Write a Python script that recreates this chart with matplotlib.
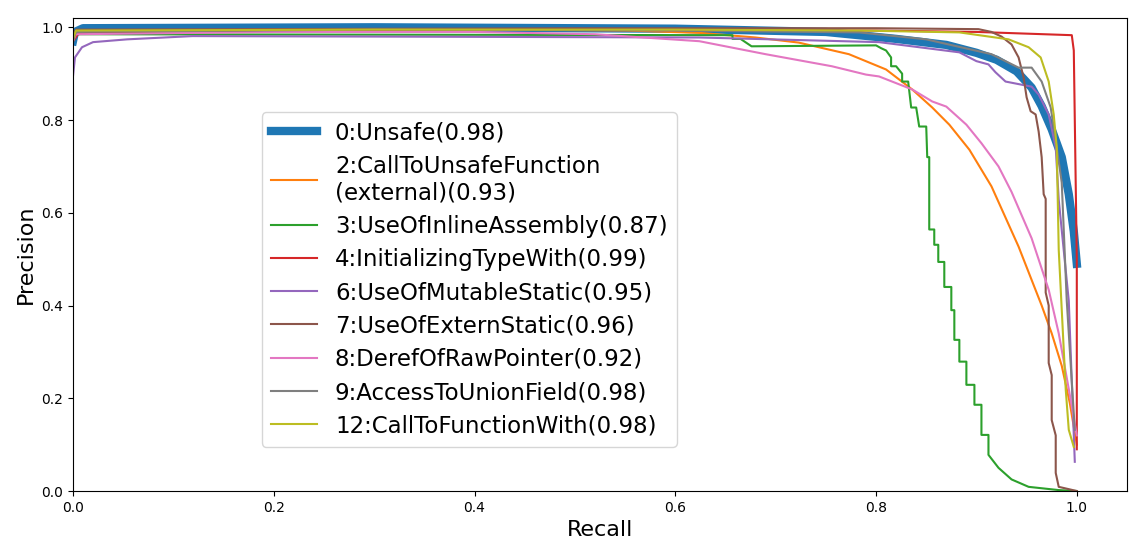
import matplotlib
matplotlib.use("Agg")
from matplotlib import pyplot as plt

# Precision-recall curves per unsafe class

# 0:Unsafe
unsafe_r = [0.0, 0.002, 0.01, 0.3, 0.6, 0.75, 0.82, 0.87, 0.9, 0.92, 0.94, 0.955, 0.965, 0.975, 0.985, 0.992, 0.997, 1.0]
unsafe_p = [0.97, 0.99, 0.998, 1.0, 0.997, 0.99, 0.975, 0.962, 0.945, 0.93, 0.905, 0.87, 0.83, 0.78, 0.72, 0.64, 0.56, 0.49]

# 2:CallToUnsafeFunction (external)
call_ext_r = [0.0, 0.003, 0.2, 0.45, 0.55, 0.624, 0.68, 0.723, 0.773, 0.81, 0.836, 0.856, 0.873, 0.893, 0.915,
              0.942, 0.965, 0.975, 0.985, 0.993, 1.0]
call_ext_p = [0.97, 0.99, 0.995, 0.995, 0.993, 0.988, 0.978, 0.967, 0.942, 0.909, 0.866, 0.827, 0.79, 0.736,
              0.657, 0.527, 0.40, 0.34, 0.27, 0.19, 0.1]

# 3:UseOfInlineAssembly (staircase corners)
asm_r = [0.0, 0.003, 0.657, 0.657, 0.665, 0.676, 0.80, 0.805, 0.81, 0.815, 0.815, 0.82, 0.826, 0.826, 0.832,
         0.835, 0.84, 0.843, 0.85, 0.851, 0.853, 0.853, 0.858, 0.858, 0.862, 0.862, 0.868, 0.868, 0.875, 0.875,
         0.878, 0.878, 0.883, 0.883, 0.89, 0.89, 0.898, 0.898, 0.905, 0.905, 0.912, 0.912, 0.922, 0.935, 0.952,
         0.982, 1.0]
asm_p = [0.97, 0.985, 0.983, 0.975, 0.975, 0.959, 0.961, 0.955, 0.95, 0.935, 0.916, 0.916, 0.9, 0.883, 0.883,
         0.827, 0.827, 0.786, 0.786, 0.72, 0.72, 0.564, 0.564, 0.531, 0.531, 0.494, 0.494, 0.44, 0.44, 0.39,
         0.39, 0.326, 0.326, 0.279, 0.279, 0.229, 0.229, 0.186, 0.186, 0.121, 0.121, 0.078, 0.05, 0.025, 0.009,
         0.002, 0.0]

# 4:InitializingTypeWith
init_r = [0.0, 0.005, 0.02, 0.5, 0.8, 0.9, 0.995, 0.997, 1.0, 1.0]
init_p = [0.97, 0.985, 0.99, 0.995, 0.993, 0.99, 0.983, 0.95, 0.5, 0.09]

# 6:UseOfMutableStatic
mut_r = [0.0, 0.002, 0.009, 0.02, 0.054, 0.119, 0.3, 0.624, 0.803, 0.883, 0.9, 0.912, 0.919, 0.929, 0.955,
         0.962, 0.972, 0.979, 0.982, 0.992, 0.998]
mut_p = [0.894, 0.935, 0.957, 0.968, 0.974, 0.981, 0.98, 0.978, 0.968, 0.946, 0.927, 0.92, 0.903, 0.883,
         0.872, 0.855, 0.812, 0.741, 0.628, 0.41, 0.063]

# 7:UseOfExternStatic (staircase corners)
ext_r = [0.0, 0.003, 0.5, 0.8, 0.902, 0.915, 0.925, 0.935, 0.942, 0.947, 0.95, 0.954, 0.959, 0.962, 0.965,
         0.967, 0.969, 0.969, 0.972, 0.972, 0.975, 0.975, 0.979, 0.979, 0.982, 1.0]
ext_p = [0.98, 0.995, 0.998, 0.998, 0.996, 0.99, 0.98, 0.963, 0.935, 0.892, 0.849, 0.819, 0.812, 0.775, 0.72,
         0.64, 0.63, 0.428, 0.40, 0.276, 0.25, 0.153, 0.12, 0.039, 0.009, 0.0]

# 8:DerefOfRawPointer
deref_r = [0.0, 0.003, 0.2, 0.4, 0.52, 0.624, 0.69, 0.756, 0.79, 0.803, 0.836, 0.856, 0.87, 0.89, 0.905,
           0.922, 0.935, 0.955, 0.972, 0.982, 0.992, 1.0]
deref_p = [0.97, 0.985, 0.99, 0.99, 0.985, 0.97, 0.942, 0.916, 0.898, 0.894, 0.866, 0.84, 0.829, 0.79, 0.75,
           0.70, 0.645, 0.545, 0.434, 0.34, 0.22, 0.12]

# 9:AccessToUnionField
union_r = [0.0, 0.003, 0.3, 0.6, 0.783, 0.85, 0.915, 0.942, 0.955, 0.965, 0.974, 0.98, 0.985, 0.99, 0.998]
union_p = [0.97, 0.99, 0.995, 0.993, 0.989, 0.974, 0.942, 0.913, 0.913, 0.883, 0.827, 0.741, 0.665, 0.41, 0.132]

# 12:CallToFunctionWith
callw_r = [0.0, 0.003, 0.3, 0.6, 0.783, 0.883, 0.932, 0.952, 0.964, 0.972, 0.977, 0.98, 0.982, 0.985,
           0.989, 0.992, 0.997]
callw_p = [0.975, 0.993, 0.995, 0.995, 0.993, 0.989, 0.974, 0.957, 0.935, 0.883, 0.812, 0.741, 0.52, 0.391,
           0.218, 0.132, 0.095]

fig = plt.figure(figsize=(11.33, 5.46), dpi=100)
ax = fig.add_axes([0.0644, 0.1007, 0.9303, 0.8663])

ax.plot(unsafe_r, unsafe_p, color='tab:blue', lw=6, label='0:Unsafe(0.98)')
ax.plot(call_ext_r, call_ext_p, color='tab:orange', lw=1.5, label='2:CallToUnsafeFunction\n(external)(0.93)')
ax.plot(asm_r, asm_p, color='tab:green', lw=1.5, label='3:UseOfInlineAssembly(0.87)')
ax.plot(init_r, init_p, color='tab:red', lw=1.5, label='4:InitializingTypeWith(0.99)')
ax.plot(mut_r, mut_p, color='tab:purple', lw=1.5, label='6:UseOfMutableStatic(0.95)')
ax.plot(ext_r, ext_p, color='tab:brown', lw=1.5, label='7:UseOfExternStatic(0.96)')
ax.plot(deref_r, deref_p, color='tab:pink', lw=1.5, label='8:DerefOfRawPointer(0.92)')
ax.plot(union_r, union_p, color='tab:gray', lw=1.5, label='9:AccessToUnionField(0.98)')
ax.plot(callw_r, callw_p, color='tab:olive', lw=1.5, label='12:CallToFunctionWith(0.98)')

ax.set_xlim(0.0, 1.05)
ax.set_ylim(0.0, 1.02)
ax.set_xlabel('Recall', fontsize=16)
ax.set_ylabel('Precision', fontsize=16)
ax.tick_params(labelsize=10)

ax.legend(loc='upper left', bbox_to_anchor=(0.179, 0.801), borderaxespad=0, fontsize=16.5, labelspacing=0.45)

plt.savefig('out.png', dpi=100)
